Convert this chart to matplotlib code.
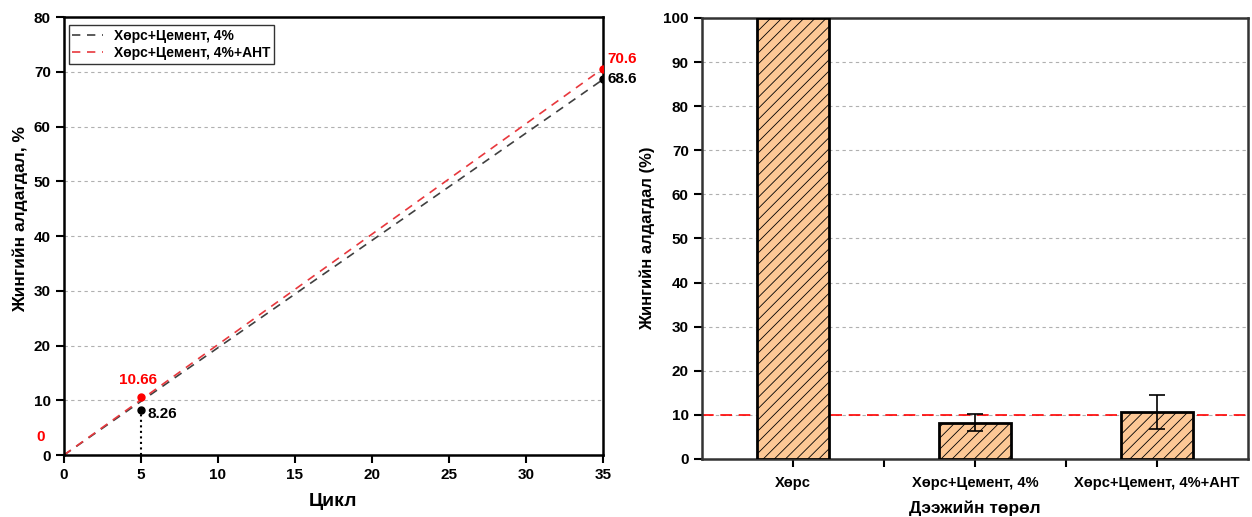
import numpy as np
import matplotlib.pyplot as plt

plt.rcParams['font.family'] = ['Liberation Sans', 'DejaVu Sans']
plt.rcParams['font.weight'] = 'bold'
plt.rcParams['hatch.linewidth'] = 0.6
plt.rcParams['hatch.color'] = '#505050'

# left panel data
cycle = [0, 35]
loss_cem = [0, 68.6]
loss_cem_ant = [0, 70.6]
pt_cycle = [5, 35]
pt_cem = [8.26, 68.6]
pt_cem_ant = [10.66, 70.6]

# right panel data
samples = ["Хөрс", "Хөрс+Цемент, 4%", "Хөрс+Цемент, 4%+АНТ"]
loss = [100, 8.26, 10.66]
loss_err = [0, 2.0, 3.9]
limit = 10

fig = plt.figure(figsize=(12.52, 5.17), dpi=100)
ax1 = fig.add_axes([0.0511, 0.1199, 0.4305, 0.8471])
ax2 = fig.add_axes([0.5607, 0.1122, 0.4361, 0.8530])

# ---- left
ax1.plot(cycle, loss_cem, '--', color='#404040', lw=1.2, dashes=(5, 4), label="Хөрс+Цемент, 4%")
ax1.plot(cycle, loss_cem_ant, '--', color='#e8383d', lw=1.2, dashes=(5, 4), label="Хөрс+Цемент, 4%+АНТ")
ax1.plot(pt_cycle, pt_cem, 'o', color='black', ms=5, zorder=5)
ax1.plot(pt_cycle, pt_cem_ant, 'o', color='red', ms=5, zorder=5)
ax1.plot([pt_cycle[0], pt_cycle[0]], [0, pt_cem[0]], ':', color='black', lw=1.5)
ax1.text(pt_cycle[0] + 0.4, pt_cem[0] - 0.8, "8.26", fontsize=11, va='center', ha='left', color='black')
ax1.text(pt_cycle[0] - 0.2, pt_cem_ant[0] + 1.8, "10.66", fontsize=11, va='bottom', ha='center', color='red')
ax1.text(pt_cycle[1] + 0.3, pt_cem[1], "68.6", fontsize=11, va='center', ha='left', color='black')
ax1.text(pt_cycle[1] + 0.3, pt_cem_ant[1] + 1.7, "70.6", fontsize=11, va='center', ha='left', color='red')
ax1.text(-1.5, 3.2, "0", fontsize=11, va='center', ha='center', color='red')

ax1.set_xlim(0, 35)
ax1.set_ylim(0, 80)
ax1.set_xticks(np.arange(0, 36, 5))
ax1.set_yticks(np.arange(0, 81, 10))
ax1.grid(axis='y', ls=(0, (3, 3)), color='#b0b0b0', lw=0.8)
ax1.set_axisbelow(True)
ax1.set_xlabel("Цикл", fontsize=14, fontweight='bold', labelpad=8)
ax1.set_ylabel("Жингийн алдагдал, %", fontsize=12.5, fontweight='bold', labelpad=6)
ax1.yaxis.set_label_coords(-0.066, 0.54)
ax1.tick_params(direction='out', length=6, width=1.5, labelsize=11)
for s in ax1.spines.values():
    s.set_linewidth(1.8)
leg = ax1.legend(loc='upper left', fontsize=10, frameon=True, fancybox=False,
                 edgecolor='black', handlelength=2.2, borderpad=0.25, labelspacing=0.25,
                 handletextpad=0.8, bbox_to_anchor=(-0.004, 0.997))
leg.get_frame().set_linewidth(1.0)

# ---- right
x = np.arange(len(samples))
ax2.bar(x, loss, width=0.4, color='#fdc896', edgecolor='black', linewidth=2,
        hatch='///', zorder=3)
ax2.errorbar(x[1:], loss[1:], yerr=loss_err[1:], fmt='none', ecolor='black',
             elinewidth=1.2, capsize=6, capthick=1.2, zorder=4)
ax2.axhline(limit, color='red', ls=(0, (7, 4)), lw=1.2, zorder=2)
ax2.set_xlim(-0.5, 2.5)
ax2.set_ylim(0, 100)
ax2.set_yticks(np.arange(0, 101, 10))
ax2.set_xticks(x)
ax2.set_xticklabels(samples)
ax2.set_xticks([0.5, 1.5], minor=True)
ax2.grid(axis='y', ls=(0, (3, 3)), color='#b0b0b0', lw=0.8, zorder=0)
ax2.set_axisbelow(True)
ax2.set_xlabel("Дээжийн төрөл", fontsize=12.5, fontweight='bold', labelpad=7)
ax2.set_ylabel("Жингийн алдагдал (%)", fontsize=12, fontweight='bold', labelpad=6)
ax2.tick_params(axis='both', which='major', direction='out', length=6, width=1.5, labelsize=11)
ax2.tick_params(axis='x', which='major', pad=6.5, labelsize=10.5)
ax2.tick_params(axis='x', which='minor', direction='out', length=6, width=1.5)
for s in ax2.spines.values():
    s.set_linewidth(1.8)
    s.set_color('#333333')

fig.savefig("out.png", dpi=100)
